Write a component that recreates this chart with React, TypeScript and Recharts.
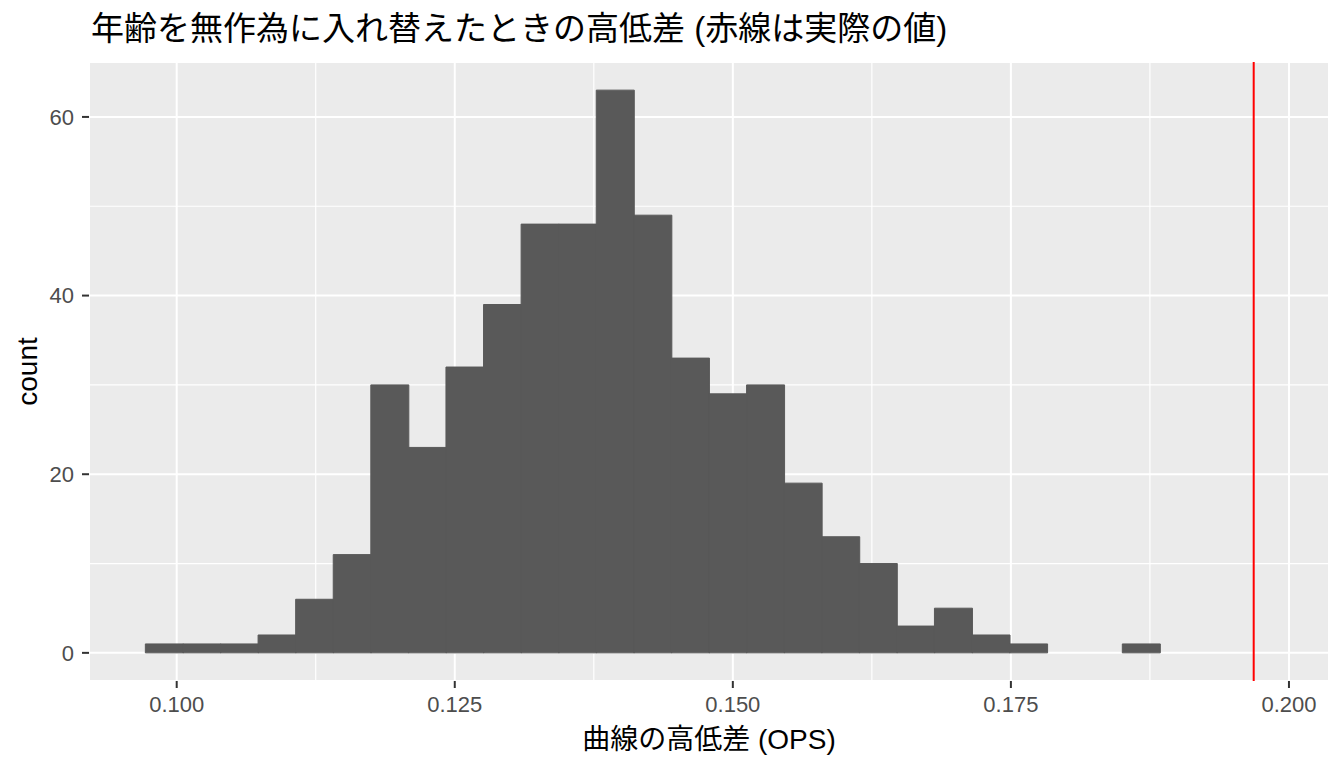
import {
  ComposedChart,
  Bar,
  XAxis,
  YAxis,
  CartesianGrid,
  ReferenceLine,
} from "recharts";

// histogram bin centres (30 bins, ggplot default) and counts per bin
const binCenters = [
  0.098871, 0.10225, 0.105628, 0.109006, 0.112385, 0.115763, 0.119141, 0.122519,
  0.125898, 0.129276, 0.132654, 0.136033, 0.139411, 0.142789, 0.146168, 0.149546,
  0.152924, 0.156302, 0.159681, 0.163059, 0.166437, 0.169816, 0.173194, 0.176572,
  0.17995, 0.183329, 0.186707, 0.190085, 0.193464, 0.196842,
];
const counts = [
  1, 1, 1, 2, 6, 11, 30, 23, 32, 39, 48, 48, 63, 49, 33, 29, 30, 19, 13, 10, 3, 5,
  2, 1, 0, 0, 1, 0, 0, 0,
];

// observed value (red line)
const actualValue = 0.19683;

const xTicks = [0.1, 0.125, 0.15, 0.175, 0.2];
const xMinor = [0.1125, 0.1375, 0.1625, 0.1875];
const yTicks = [0, 20, 40, 60];
const yMinor = [10, 30, 50];

const xDomain = [0.092115, 0.2036];
const yDomain = [-3.15, 66.15];

const title = "年齢を無作為に入れ替えたときの高低差 (赤線は実際の値)";
const xTitle = "曲線の高低差 (OPS)";
const yTitle = "count";

const FONT = "'Liberation Sans', Arial, 'Noto Sans CJK JP', sans-serif";

const data = binCenters.map((x, i) => ({ x, count: counts[i] }));

export default function App() {
  const tickStyle = { fontSize: 22, fill: "#4D4D4D", fontFamily: FONT };
  const tickLine = { stroke: "#333333", strokeWidth: 2 };

  return (
    <div
      style={{
        position: "absolute",
        left: 0,
        top: 0,
        width: 1344,
        height: 768,
        background: "#fff",
      }}
    >
      <ComposedChart
        width={1344}
        height={768}
        data={data}
        margin={{ top: 62, right: 15, bottom: 0, left: 0 }}
        barCategoryGap={0}
        barGap={0}
      >
        {/* panel background + major grid */}
        <CartesianGrid stroke="#ffffff" strokeWidth={2} fill="#EBEBEB" fillOpacity={1} />
        {/* minor grid, still behind the bars */}
        <CartesianGrid
          stroke="#ffffff"
          strokeWidth={1.2}
          fill="none"
          horizontalValues={yMinor}
          verticalValues={xMinor}
        />
        <XAxis
          dataKey="x"
          type="number"
          domain={xDomain}
          allowDataOverflow
          ticks={xTicks}
          interval={0}
          tickFormatter={(v: number) => v.toFixed(3)}
          axisLine={false}
          tickLine={tickLine}
          tickSize={7}
          tickMargin={8}
          tick={tickStyle}
          height={87}
        />
        <YAxis
          type="number"
          domain={yDomain}
          allowDataOverflow
          ticks={yTicks}
          interval={0}
          axisLine={false}
          tickLine={tickLine}
          tickSize={7}
          tickMargin={8}
          tick={tickStyle}
          width={89}
        />
        <Bar
          dataKey="count"
          fill="#595959"
          stroke="#595959"
          strokeWidth={1}
          isAnimationActive={false}
        />
        <ReferenceLine x={actualValue} stroke="#FF0000" strokeWidth={2} />
      </ComposedChart>
      <svg
        width={1344}
        height={768}
        style={{ position: "absolute", left: 0, top: 0, pointerEvents: "none" }}
      >
        <text x={91} y={40} fontSize={33} fill="#000" fontFamily={FONT}>
          {title}
        </text>
        <text x={709} y={749} fontSize={28} fill="#000" fontFamily={FONT} textAnchor="middle">
          {xTitle}
        </text>
        <text
          transform="translate(37,371.5) rotate(-90)"
          fontSize={28}
          fill="#000"
          fontFamily={FONT}
          textAnchor="middle"
        >
          {yTitle}
        </text>
      </svg>
    </div>
  );
}
